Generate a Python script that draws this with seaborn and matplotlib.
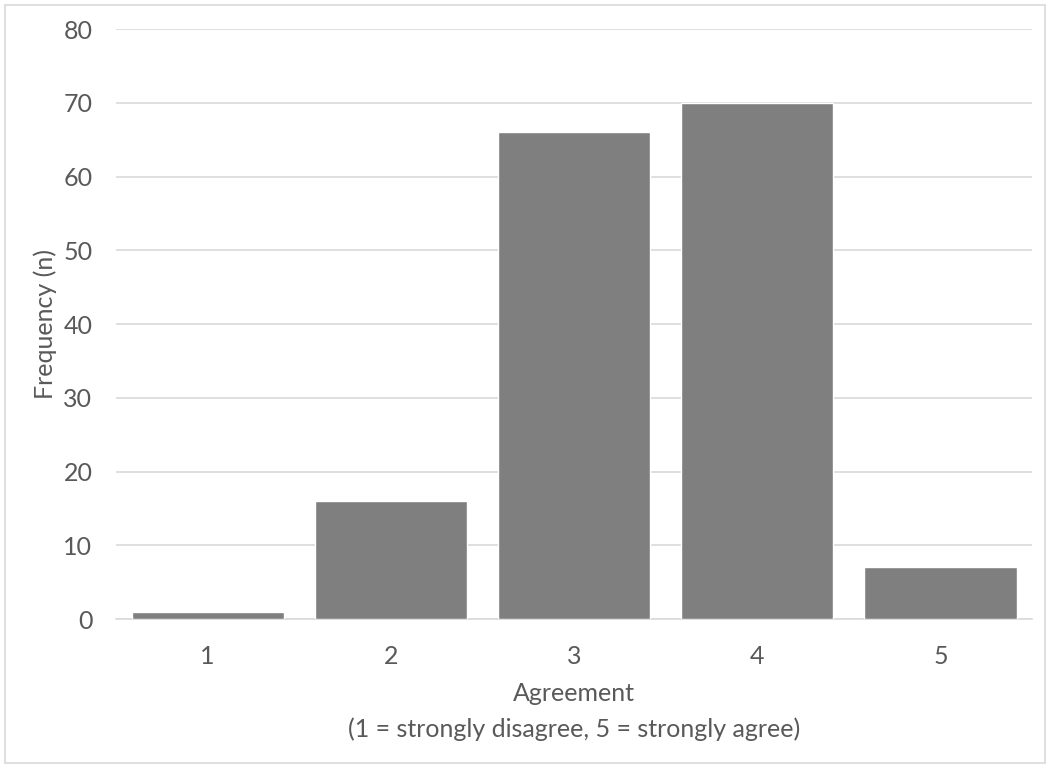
import matplotlib
matplotlib.use("Agg")
import matplotlib.pyplot as plt
import seaborn as sns
import pandas as pd
from matplotlib.patches import Rectangle

categories = ["1", "2", "3", "4", "5"]
frequency = [1, 16, 66, 70, 7]
y_ticks = [0, 10, 20, 30, 40, 50, 60, 70, 80]

sns.set_theme(style="white")
plt.rcParams['font.family'] = ['Lato', 'DejaVu Sans']

df = pd.DataFrame({"Agreement": categories, "Frequency": frequency})

fig = plt.figure(figsize=(10.5, 7.68), dpi=100)
ax = fig.add_axes([0.1105, 0.194, 0.8725, 0.768])

sns.barplot(data=df, x="Agreement", y="Frequency", color="#7f7f7f",
            saturation=1, width=0.83, ax=ax, zorder=3)

ax.set_ylim(0, 80)
ax.set_yticks(y_ticks)
ax.set_xlim(-0.5, 4.5)
ax.yaxis.grid(True, color="#d9d9d9", linewidth=1.2, zorder=0)
ax.set_axisbelow(True)
for s in ["top", "right", "left"]:
    ax.spines[s].set_visible(False)
ax.spines["bottom"].set_color("#d9d9d9")
ax.spines["bottom"].set_linewidth(1.2)

fs = 18
ax.tick_params(axis="both", length=0, labelsize=fs, colors="#595959")
ax.tick_params(axis="y", pad=17)
ax.tick_params(axis="x", pad=19)

ax.set_ylabel("Frequency (n)", fontsize=fs, color="#595959")
ax.yaxis.set_label_coords(-0.064, 0.5)
ax.set_xlabel("Agreement\n(1 = strongly disagree, 5 = strongly agree)",
              fontsize=fs, color="#595959", labelpad=10, linespacing=1.62)

fig.patches.append(Rectangle((0.005, 0.006), 0.99, 0.988, transform=fig.transFigure,
                             fill=False, edgecolor="#d9d9d9", linewidth=1.2))

fig.savefig("out.png", dpi=100)
